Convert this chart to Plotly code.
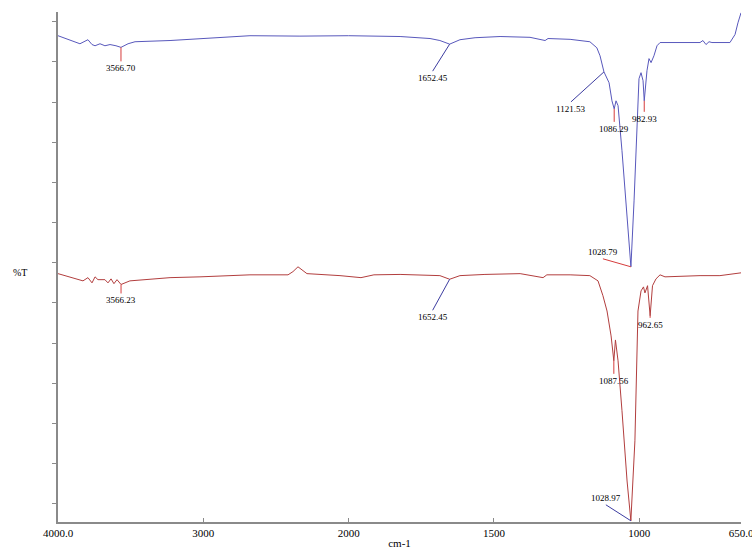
import numpy as np
import plotly.graph_objects as go

# ---- data (wavenumber cm-1, %T in arbitrary offset units) ----
top_wn = [4000, 3917, 3849, 3794, 3766, 3745, 3711, 3677, 3642, 3601, 3566.7, 3518, 3470,
          3229, 3023, 2816, 2679, 2335, 2000, 1823, 1720, 1686, 1652.45, 1617, 1565, 1479,
          1376, 1324, 1314, 1238, 1170, 1146, 1135, 1121.53, 1104, 1094, 1086.29, 1080, 1073,
          1059.5, 1045.5, 1028.79, 1018, 1008, 1001, 994, 987, 982.93, 973.5, 966.5, 959.5,
          949.5, 939, 928.5, 860, 791, 781, 770.5, 760, 750, 688, 670.5, 660.5, 650]
top_T = [116.5, 115.3, 114.5, 115.5, 114.3, 114.0, 114.5, 114.0, 114.3, 114.0, 113.6, 114.5, 115.0,
         115.3, 115.8, 116.3, 116.5, 116.4, 116.5, 116.3, 115.8, 115.3, 114.4, 115.5, 116.0, 116.3,
         116.1, 115.3, 115.8, 115.6, 115.0, 113.5, 111.5, 107.5, 104.8, 100.3, 98.3, 100.3, 99.1,
         87.9, 75.4, 59.0, 75.4, 92.9, 105.8, 107.3, 105.3, 100.3, 107.8, 110.8, 109.8,
         111.5, 114.0, 114.8, 114.8, 114.8, 115.3, 114.3, 115.0, 114.8, 114.8, 116.8, 119.7, 122.2]

bot_wn = [4000, 3917, 3828, 3794, 3766, 3745, 3725, 3677, 3656, 3635, 3615, 3594, 3566.23, 3505,
          3229, 3023, 2679, 2417, 2383, 2348.5, 2314, 2287, 2059.5, 1957.5, 1913, 1823, 1686,
          1652.45, 1617, 1531, 1410, 1331, 1318, 1238, 1170, 1142, 1125, 1111, 1097, 1087.56,
          1082, 1073, 1059.5, 1042, 1028.97, 1015, 1004.5, 994, 985.5, 980.5, 971.5, 962.65,
          954.5, 942.5, 928.5, 911.5, 791, 722.5, 650]
bot_T = [57.3, 56.5, 55.5, 56.3, 55.0, 56.5, 55.8, 55.8, 55.0, 56.0, 54.8, 55.8, 54.6, 55.5,
         56.3, 56.5, 57.0, 57.0, 57.8, 59.0, 58.0, 57.3, 56.8, 56.3, 57.0, 57.1, 56.8,
         55.9, 56.8, 57.1, 57.3, 56.3, 57.0, 57.0, 56.8, 55.5, 51.8, 48.0, 41.8, 35.6,
         40.8, 35.6, 23.2, 5.7, -4.2, 15.7, 48.0, 53.0, 54.0, 52.5, 54.3, 46.8,
         54.3, 56.0, 57.0, 56.5, 56.8, 56.8, 57.5]

tick_wn = [4000, 3000, 2000, 1500, 1000, 650]
tick_text = ["4000.0", "3000", "2000", "1500", "1000", "650.0"]

top_labels = ["3566.70", "1652.45", "1121.53", "1086.29", "982.93", "1028.79"]
bot_labels = ["3566.23", "1652.45", "1087.56", "962.65", "1028.97"]


def disp(w):
    """Spectrometer x scale: 1x above 2000 cm-1, 2x expanded below."""
    w = np.asarray(w, dtype=float)
    return np.where(w >= 2000, 4000 - w, 2000 + 2 * (2000 - w))


BLUE = "rgb(88,88,188)"
RED = "rgb(178,62,62)"
LRED = "rgb(214,60,60)"
LBLUE = "rgb(60,60,160)"
FONT = "Liberation Serif"

fig = go.Figure()
fig.add_trace(go.Scatter(x=disp(top_wn), y=top_T, mode="lines",
                         line=dict(color=BLUE, width=1), showlegend=False))
fig.add_trace(go.Scatter(x=disp(bot_wn), y=bot_T, mode="lines",
                         line=dict(color=RED, width=1), showlegend=False))

# label styling: ax, ay, yanchor, leader colour
top_style = [(0, 14, "top", LRED), (-17, 27, "top", LBLUE), (-33, 30, "top", LBLUE),
             (0, 13, "top", LRED), (0, 11, "top", LRED), (-28, -8, "bottom", LRED)]
bot_style = [(0, 9, "top", LRED), (-17, 31, "top", LBLUE), (0, 13, "top", LRED),
             (0, 2, "top", LRED), (-25, -16, "bottom", LBLUE)]


def add_labels(wn, T, labels, styles):
    dx = disp(wn)
    order = np.argsort(dx)
    for lab, (ax, ay, ya, col) in zip(labels, styles):
        xd = float(disp(float(lab)))
        yv = float(np.interp(xd, dx[order], np.asarray(T)[order]))
        fig.add_annotation(x=xd, y=yv, text=lab, showarrow=True, ax=ax, ay=ay,
                           xanchor="center", yanchor=ya, arrowhead=0, arrowwidth=1,
                           arrowcolor=col, standoff=0, startstandoff=0,
                           font=dict(family=FONT, size=9, color="black"))


add_labels(top_wn, top_T, top_labels, top_style)
add_labels(bot_wn, bot_T, bot_labels, bot_style)

fig.add_annotation(x=-0.056, y=(522 - 272) / 510.0, xref="x domain", yref="y domain",
                   text="%T", showarrow=False, xanchor="center", yanchor="middle",
                   font=dict(family=FONT, size=10, color="black"))

fig.update_layout(
    width=752, height=549,
    margin=dict(l=58, r=11, t=12, b=27, autoexpand=False),
    paper_bgcolor="white", plot_bgcolor="white",
    xaxis=dict(range=[0, 4700], tickvals=disp(tick_wn).tolist(), ticktext=tick_text,
               showgrid=False, zeroline=False, showline=True, linecolor="#8a8a8a", linewidth=1.5,
               ticks="inside", ticklen=4, tickcolor="#8a8a8a", automargin=False,
               ticklabeloverflow="allow",
               tickfont=dict(family=FONT, size=11, color="black"),
               title=dict(text="cm-1", font=dict(family=FONT, size=11, color="black"), standoff=2)),
    yaxis=dict(range=[-4.5, 122.4], tickvals=list(range(0, 121, 10)), showticklabels=False,
               showgrid=False, zeroline=False, showline=True, linecolor="#8a8a8a", linewidth=1.5,
               ticks="outside", ticklen=4, tickcolor="#8a8a8a", automargin=False),
)

fig.write_html("out.html", config={"displayModeBar": False},
               post_script="document.body.style.margin='0';document.body.style.overflow='hidden';")
